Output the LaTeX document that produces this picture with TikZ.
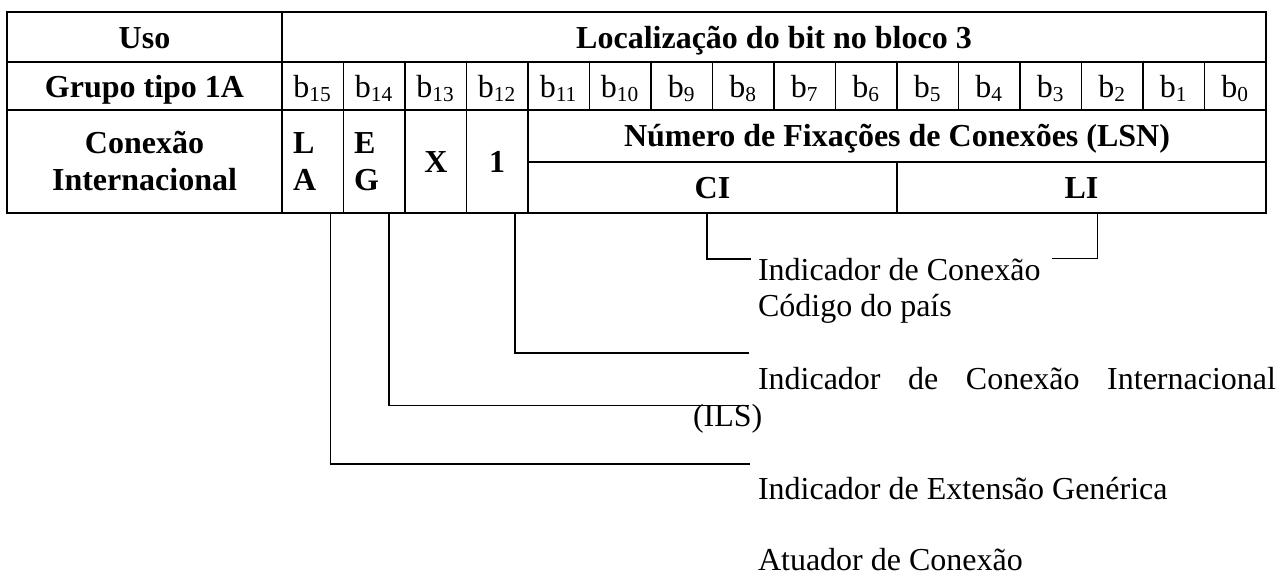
\documentclass[tikz,border=0pt]{standalone}
\usepackage{fontspec}
\setmainfont{Liberation Serif}
\begin{document}
\begin{tikzpicture}[x=0.375pt,y=-0.375pt,
  txt/.style={font=\fontsize{12}{13.8}\selectfont, inner sep=0pt, outer sep=0pt, anchor=base},
  hd/.style={txt, font=\fontsize{12}{13.8}\selectfont\bfseries},
  hdl/.style={hd, anchor=base west},
  lt/.style={txt, anchor=base west},
  gridline/.style={line width=0.6pt},
  conn/.style={line width=0.45pt}]
\useasboundingbox (0,0) rectangle (1282,575);

% table grid
\draw[gridline] (7,12) rectangle (1266,213);
\draw[gridline] (7,62) -- (1266,62);
\draw[gridline] (7,110) -- (1266,110);
\draw[gridline] (528,162) -- (1266,162);
\draw[gridline] (282,12) -- (282,213);
\foreach \k in {1,...,15} \draw[gridline] ({282+61.5*\k},62) -- ({282+61.5*\k},110);
\foreach \k in {1,2,3,4} \draw[gridline] ({282+61.5*\k},110) -- ({282+61.5*\k},213);
\draw[gridline] (897,162) -- (897,213);

% header row
\node[hd] (uso) at (144.5,48) {Uso};
\node[hd] (loc) at (774,48) {Localização do bit no bloco 3};
% bit row
\node[hd] (grupo) at (144.5,97) {Grupo tipo 1A};
\foreach \n in {0,...,15}
  \node[txt] (b\n) at ({282+61.5*(15-\n)+30.75},97) {b\textsubscript{\n}};
% third row
\node[hd] (con1) at (144.5,153) {Conexão};
\node[hd] (con2) at (144.5,190) {Internacional};
\node[hdl] (l1) at (293,153) {L};
\node[hdl] (l2) at (293,190) {A};
\node[hdl] (e1) at (354,153) {E};
\node[hdl] (e2) at (354,190) {G};
\node[hd] (x) at (436,172.5) {X};
\node[hd] (one) at (497,172.5) {1};
\node[hd] (lsn) at (897,146) {Número de Fixações de Conexões (LSN)};
\node[hd] (ci) at (712.5,198.5) {CI};
\node[hd] (li) at (1081.5,198.5) {LI};

% explanatory texts
\node[lt] (t1) at (758,280) {Indicador de Conexão};
\node[lt] (t2) at (758,316.6) {Código do país};
\node[lt] (t3) at (758,389.8) {\makebox[194.25pt][s]{Indicador de Conexão Internacional}};
\node[lt] (t4) at (693,426.4) {(ILS)};
\node[lt] (t5) at (758,499.6) {Indicador de Extensão Genérica};
\node[lt] (t6) at (758,570.5) {Atuador de Conexão};

% connectors
\coordinate (laTop) at (330.5,213);  \coordinate (laEnd) at (750,464);
\coordinate (egTop) at (389,213);    \coordinate (egEnd) at (749,405.5);
\coordinate (oneTop) at (515,213);   \coordinate (oneEnd) at (749,353);
\coordinate (ciTop) at (707,213);    \coordinate (ciEnd) at (751,259);
\coordinate (liTop) at (1097.5,213); \coordinate (liEnd) at (1052,258.5);
\draw[conn] (laTop) |- (laEnd);
\draw[conn] (egTop) |- (egEnd);
\draw[conn] (oneTop) |- (oneEnd);
\draw[conn] (ciTop) |- (ciEnd);
\draw[conn] (liTop) |- (liEnd);
\end{tikzpicture}
\end{document}
